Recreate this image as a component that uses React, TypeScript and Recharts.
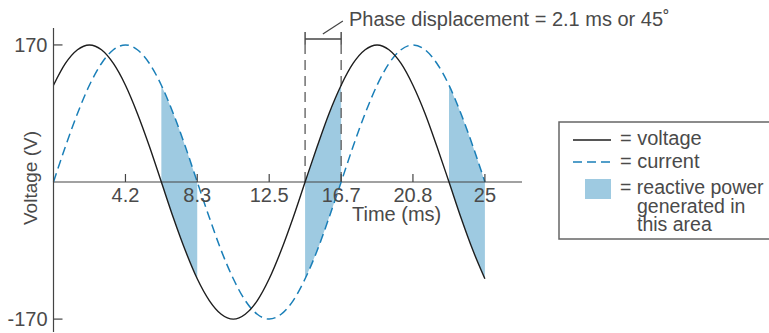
import React from 'react';
import { ComposedChart, Line, Area, XAxis, YAxis, ReferenceLine } from 'recharts';

// sampled every 15 degrees of a 60 Hz cycle
const TIME_MS = [0, 0.69, 1.39, 2.08, 2.78, 3.47, 4.17, 4.86, 5.56, 6.25, 6.94, 7.64, 8.33, 9.03, 9.72, 10.42, 11.11, 11.81, 12.5, 13.19, 13.89, 14.58, 15.28, 15.97, 16.67, 17.36, 18.06, 18.75, 19.44, 20.14, 20.83, 21.53, 22.22, 22.92, 23.61, 24.31, 25];
const VOLTAGE = [120, 147, 164, 170, 164, 147, 120, 85, 44, 0, -44, -85, -120, -147, -164, -170, -164, -147, -120, -85, -44, 0, 44, 85, 120, 147, 164, 170, 164, 147, 120, 85, 44, 0, -44, -85, -120];
const CURRENT = [0, 44, 85, 120, 147, 164, 170, 164, 147, 120, 85, 44, 0, -44, -85, -120, -147, -164, -170, -164, -147, -120, -85, -44, 0, 44, 85, 120, 147, 164, 170, 164, 147, 120, 85, 44, 0];
const REACTIVE_SPANS = [[6.25, 8.33], [14.58, 16.67], [22.92, 25]];

const X_TICKS = [4.17, 8.33, 12.5, 16.67, 20.83, 25];
const X_TICK_LABELS = ['4.2', '8.3', '12.5', '16.7', '20.8', '25'];
const Y_TICKS = [170, -170];

const PHASE_MARKS = [14.58, 16.67];

const W = 769;
const H = 333;
const TOP = 28;
const PLOT_H = 304;
const Y_MIN = -186;
const Y_MAX = 191;
const X_MAX = 27.15;
const ZERO_Y = TOP + (PLOT_H * Y_MAX) / (Y_MAX - Y_MIN);

const TEXT = '#4a4a4a';
const AXIS = '#444';
const FONT = '"Liberation Sans", Arial, sans-serif';

const data = TIME_MS.map((t, i) => {
  const inSpan = REACTIVE_SPANS.some(([a, b]) => t >= a && t <= b);
  return {
    t,
    voltage: VOLTAGE[i],
    current: CURRENT[i],
    reactive: inSpan ? [VOLTAGE[i], CURRENT[i]] : null,
  };
});

const XTick = (props: any) => {
  const { x, payload } = props;
  const idx = X_TICKS.indexOf(payload.value);
  return (
    <g>
      <line x1={x} x2={x} y1={ZERO_Y - 8} y2={ZERO_Y} stroke={AXIS} strokeWidth={1.2} />
      <text x={x} y={ZERO_Y + 20} textAnchor="middle" fontSize={20} fill={TEXT} fontFamily={FONT}>
        {X_TICK_LABELS[idx]}
      </text>
    </g>
  );
};

const YTick = (props: any) => {
  const { x, y, payload } = props;
  return (
    <g>
      <line x1={x} x2={x + 9} y1={y} y2={y} stroke={AXIS} strokeWidth={1.2} />
      <text x={x - 6} y={y + 7} textAnchor="end" fontSize={20} fill={TEXT} fontFamily={FONT}>
        {payload.value}
      </text>
    </g>
  );
};

export default function App() {
  const [p0, p1] = PHASE_MARKS;
  return (
    <div style={{ position: 'absolute', left: 0, top: 0, width: W, height: H, overflow: 'hidden', background: '#fff' }}>
      <ComposedChart
        width={W}
        height={H}
        data={data}
        margin={{ top: TOP, right: W - 522, left: 52.5, bottom: 0 }}
      >
        <XAxis
          dataKey="t"
          type="number"
          domain={[0, X_MAX]}
          ticks={X_TICKS}
          tick={<XTick />}
          tickLine={false}
          axisLine={false}
          height={1}
          interval={0}
        />
        <YAxis
          type="number"
          domain={[Y_MIN, Y_MAX]}
          allowDataOverflow
          ticks={Y_TICKS}
          tick={<YTick />}
          tickLine={false}
          tickSize={0}
          tickMargin={0}
          width={1}
          interval={0}
          stroke={AXIS}
          strokeWidth={1.2}
        />
        <Area
          dataKey="reactive"
          type="monotone"
          fill="#9ecae1"
          fillOpacity={1}
          stroke="none"
          isAnimationActive={false}
          activeDot={false}
        />
        <ReferenceLine y={0} stroke={AXIS} strokeWidth={1.2} />
        {PHASE_MARKS.map((m) => (
          <ReferenceLine
            key={m}
            segment={[{ x: m, y: 0 }, { x: m, y: 177.4 }]}
            stroke="#666"
            strokeWidth={1.4}
            strokeDasharray="10 6"
          />
        ))}
        <ReferenceLine segment={[{ x: p0, y: 177.4 }, { x: p1, y: 177.4 }]} stroke={AXIS} strokeWidth={1.4} />
        {PHASE_MARKS.map((m) => (
          <ReferenceLine key={'e' + m} segment={[{ x: m, y: 171 }, { x: m, y: 186 }]} stroke={AXIS} strokeWidth={1.4} />
        ))}
        <ReferenceLine
          segment={[{ x: 15.61, y: 183.6 }, { x: 16.77, y: 199.8 }]}
          stroke={AXIS}
          strokeWidth={1.2}
          ifOverflow="visible"
        />
        <Line dataKey="current" type="monotone" stroke="#1a7fb8" strokeWidth={1.5} strokeDasharray="9 5" dot={false} isAnimationActive={false} />
        <Line dataKey="voltage" type="monotone" stroke="#1e1e1e" strokeWidth={1.4} dot={false} isAnimationActive={false} />
      </ComposedChart>

      <svg width={W} height={H} style={{ position: 'absolute', left: 0, top: 0, pointerEvents: 'none' }} fontFamily={FONT} fill={TEXT}>
        <text x={349} y={26} fontSize={20}>Phase displacement = 2.1 ms or 45˚</text>
        <text x={352} y={221} fontSize={20}>Time (ms)</text>
        <text x={37} y={178} fontSize={19} textAnchor="middle" transform="rotate(-90 37 178)">Voltage (V)</text>

        <rect x={559} y={122} width={240} height={117} fill="#fff" stroke="#666" strokeWidth={1.5} />
        <line x1={573} x2={611} y1={140} y2={140} stroke="#1e1e1e" strokeWidth={1.4} />
        <text x={620} y={145} fontSize={20}>= voltage</text>
        <line x1={573} x2={611} y1={162} y2={162} stroke="#1a7fb8" strokeWidth={1.5} strokeDasharray="9 5" />
        <text x={620} y={168} fontSize={20}>= current</text>
        <rect x={585} y={179} width={26} height={20} fill="#9ecae1" />
        <text x={620} y={194} fontSize={19.5}>= reactive power</text>
        <text x={637} y={213} fontSize={19.5}>generated in</text>
        <text x={637} y={231} fontSize={19.5}>this area</text>
      </svg>
    </div>
  );
}
